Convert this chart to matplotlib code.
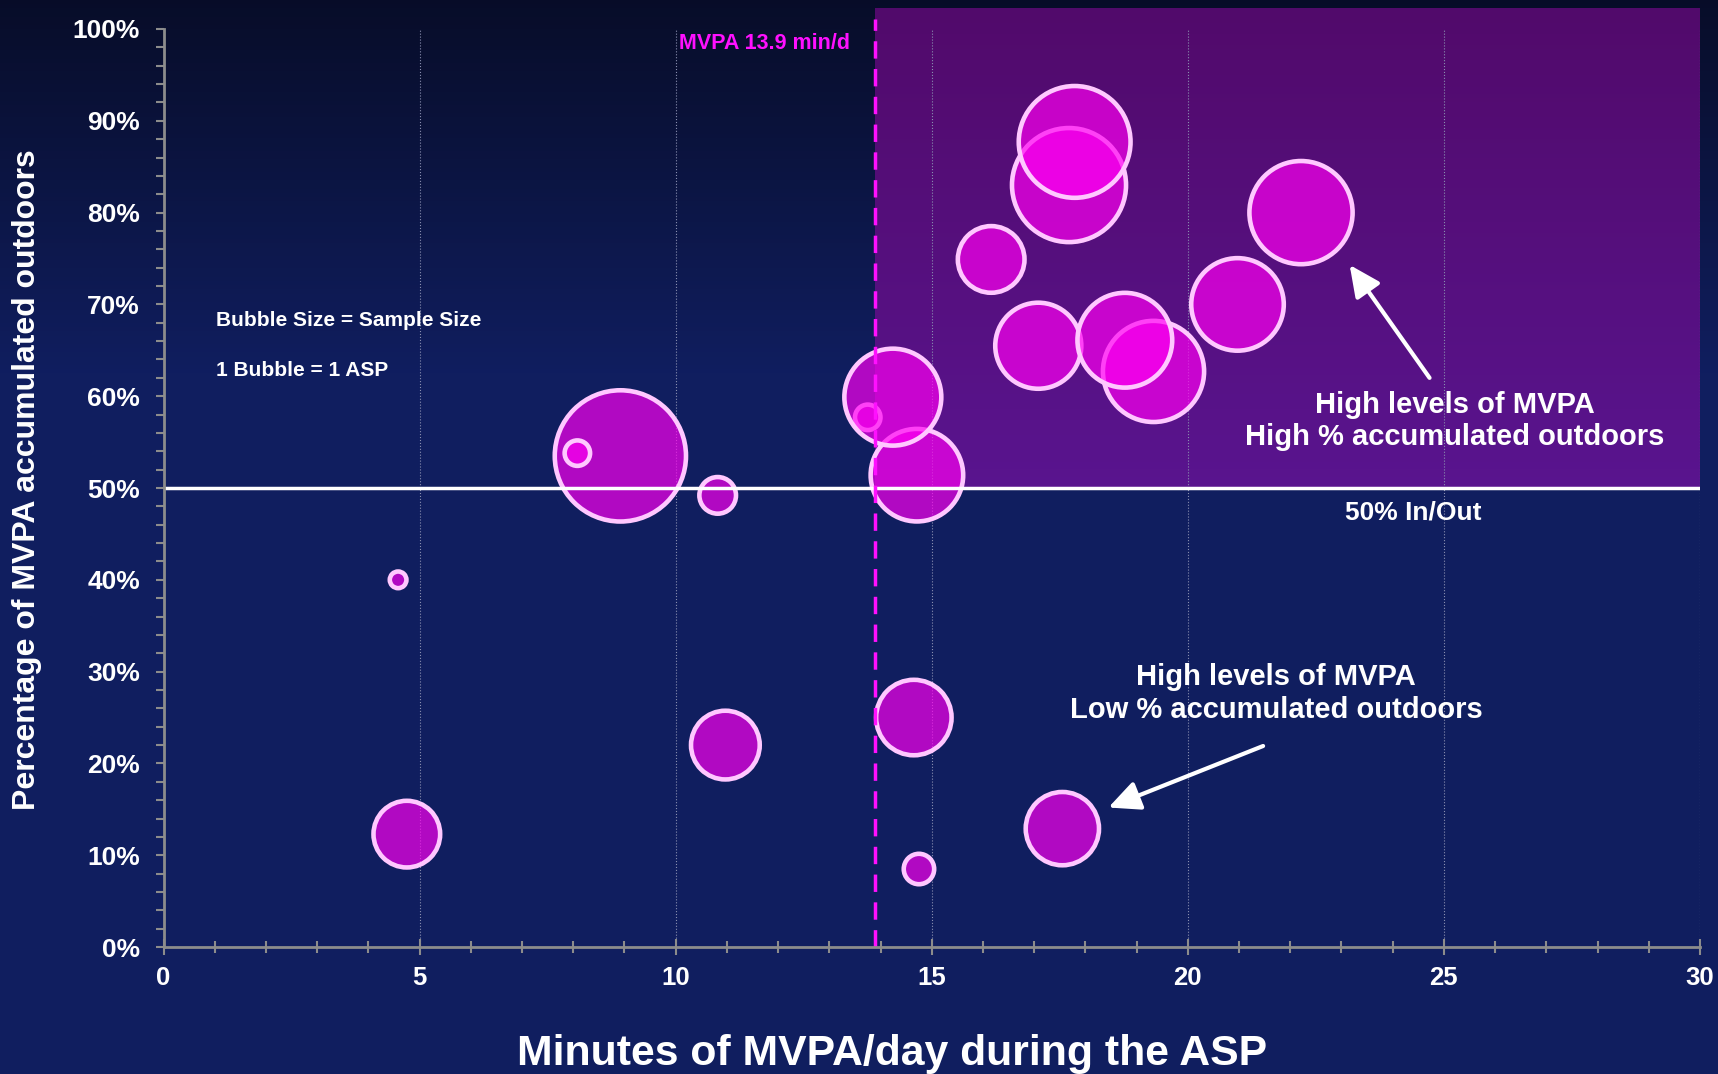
import numpy as np
import matplotlib
matplotlib.use("Agg")
import matplotlib.pyplot as plt
from matplotlib.ticker import MultipleLocator, FuncFormatter

plt.rcParams['font.family'] = ['Liberation Sans', 'DejaVu Sans']
plt.rcParams['font.weight'] = 'bold'

# one bubble per after-school programme (ASP)
mvpa_minutes = [4.58, 4.75, 8.92, 8.08, 10.82, 10.97, 13.75, 14.71, 14.24, 14.65,
                14.75, 16.16, 17.08, 17.55, 17.68, 17.79, 19.33, 18.77, 20.97, 22.21]
pct_outdoors = [40.0, 12.3, 53.5, 53.8, 49.2, 22.0, 57.7, 51.4, 59.9, 25.0,
                8.5, 74.9, 65.5, 12.9, 83.0, 87.7, 62.7, 66.1, 70.0, 80.0]
sample_size = [6, 96, 372, 14, 29, 102, 14, 185, 203, 123,
               20, 96, 160, 116, 281, 270, 221, 194, 185, 230]

mvpa_cutoff = 13.9
inout_split = 50
x_ticks = [0, 5, 10, 15, 20, 25, 30]
y_ticks = [0, 10, 20, 30, 40, 50, 60, 70, 80, 90, 100]

fig = plt.figure(figsize=(17.18, 10.74), dpi=100)

# background: dark at the top fading into navy
bg = fig.add_axes([0, 0, 1, 1], zorder=-10)
t = np.linspace(0, 1, 256)[:, None]
top = np.array([0.03, 0.05, 0.16])
low = np.array([0.063, 0.118, 0.376])
mix = np.clip(t / 0.35, 0, 1)
grad = (top * (1 - mix) + low * mix)[:, None, :]
bg.imshow(np.repeat(grad, 2, axis=1), aspect='auto', extent=[0, 1, 1, 0])
bg.set_axis_off()

ax = fig.add_axes([0.0952, 0.1182, 0.8943, 0.8548])
ax.patch.set_alpha(0)

# high MVPA / high outdoor quadrant
ptop = np.array([0.32, 0.04, 0.42])
pbot = np.array([0.35, 0.08, 0.56])
pg = np.linspace(0, 1, 128)[:, None]
pgrad = (ptop * (1 - pg) + pbot * pg)[:, None, :]
ax.imshow(np.repeat(pgrad, 2, axis=1), aspect='auto',
          extent=[mvpa_cutoff, 30, inout_split, 102.2], origin='upper',
          clip_on=False, zorder=0)

for xv in x_ticks[1:]:
    ax.plot([xv, xv], [0, 100], color='#8a8fb0', lw=0.8, ls=':', zorder=1)

ax.scatter(mvpa_minutes, pct_outdoors, s=np.array(sample_size) * 24,
           facecolors=(1.0, 0.0, 0.95, 0.68), edgecolors='#ffc8ff',
           linewidths=3.3, zorder=3)

ax.plot([0, 30], [inout_split, inout_split], color='white', lw=2.5, zorder=4)
ax.plot([mvpa_cutoff, mvpa_cutoff], [0, 101.1], color='#ff10ff', lw=2.5,
        dashes=(5, 3), clip_on=False, zorder=4)

ax.set_xlim(0, 30)
ax.set_ylim(0, 100)
ax.set_xticks(x_ticks)
ax.set_yticks(y_ticks)
ax.xaxis.set_minor_locator(MultipleLocator(1))
ax.yaxis.set_minor_locator(MultipleLocator(2))
ax.yaxis.set_major_formatter(FuncFormatter(lambda v, p: '%d%%' % v))

for s in ['top', 'right']:
    ax.spines[s].set_visible(False)
for s in ['left', 'bottom']:
    ax.spines[s].set_color('#8c8c8c')
    ax.spines[s].set_linewidth(2)
    ax.spines[s].set_zorder(5)

ax.tick_params(axis='x', which='major', direction='inout', length=11, width=1.5,
               color='#8c8c8c', labelcolor='white', labelsize=18.5, pad=8)
ax.tick_params(axis='x', which='minor', direction='inout', length=8.5, width=1.5,
               color='#8c8c8c')
ax.tick_params(axis='y', which='both', direction='out', length=6, width=1.5,
               color='#8c8c8c', labelcolor='white', labelsize=19, pad=11)

fig.text(0.519, 0.008, 'Minutes of MVPA/day during the ASP', color='white',
         fontsize=30.8, fontweight='bold', ha='center', va='baseline')
fig.text(0.0158, 0.553, 'Percentage of MVPA accumulated outdoors', color='white',
         fontsize=23, fontweight='bold', rotation=90, ha='center', va='center')

ax.text(13.4, 98.4, 'MVPA 13.9 min/d', color='#ff10ff', fontsize=15.5,
        ha='right', va='center')
ax.text(1.03, 68.3, 'Bubble Size = Sample Size', color='white', fontsize=15,
        ha='left', va='center')
ax.text(1.03, 62.8, '1 Bubble = 1 ASP', color='white', fontsize=15,
        ha='left', va='center')
ax.text(25.21, 57.3, 'High levels of MVPA\nHigh % accumulated outdoors',
        color='white', fontsize=21, ha='center', va='center', linespacing=1.2)
ax.text(24.4, 47.3, '50% In/Out', color='white', fontsize=19,
        ha='center', va='center')
ax.text(21.72, 27.6, 'High levels of MVPA\nLow % accumulated outdoors',
        color='white', fontsize=21, ha='center', va='center', linespacing=1.2)

arrow = dict(arrowstyle='-|>,head_length=1.9,head_width=0.9', color='white', lw=3,
             shrinkA=0, shrinkB=0)
ax.annotate('', xy=(23.16, 74.3), xytext=(24.72, 62.0), arrowprops=arrow, zorder=6)
ax.annotate('', xy=(18.45, 15.2), xytext=(21.47, 21.9), arrowprops=arrow, zorder=6)

fig.savefig('out.png', dpi=100)
